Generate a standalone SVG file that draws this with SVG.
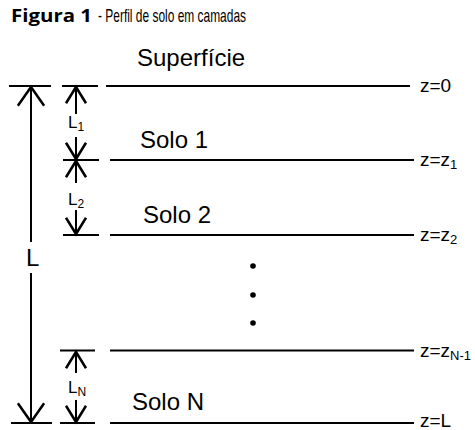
<svg xmlns="http://www.w3.org/2000/svg" width="475" height="430" viewBox="0 0 475 430">
<style>
.ln{stroke:#000;stroke-width:2;fill:none}
.ar{stroke:#000;stroke-width:2;fill:none}
.t{font-family:"Liberation Sans",Arial,sans-serif;fill:#000}
.big{font-size:24px}
.z{font-size:19px}
.sm{font-size:17px}
.sub{font-size:12px}
.zsub{font-size:13px}
.ttl{font-family:"Liberation Sans Narrow","Liberation Sans",sans-serif;font-size:18.5px;fill:#000}
</style>
<defs>
<marker id="hb" markerUnits="userSpaceOnUse" markerWidth="30" markerHeight="30" orient="auto" refX="0" refY="0" viewBox="-16 -12 18 24" overflow="visible">
<path d="M-15,-10.5 L0,0 L-15,10.5" stroke="#000" stroke-width="2" fill="none"/>
</marker>
<marker id="hs" markerUnits="userSpaceOnUse" markerWidth="30" markerHeight="30" orient="auto" refX="0" refY="0" viewBox="-16 -12 18 24" overflow="visible">
<path d="M-13,-8 L0,0 L-13,8" stroke="#000" stroke-width="2" fill="none"/>
</marker>
</defs>
<g id="title">
<text x="11" y="22" font-family="'Open Sans','Liberation Sans',sans-serif" font-weight="bold" font-size="18" textLength="81" lengthAdjust="spacingAndGlyphs">Figura 1</text>
<text class="ttl" x="98" y="22" textLength="148" lengthAdjust="spacingAndGlyphs">- Perfil de solo em camadas</text>
</g>
<g id="surface">
<text class="t big" x="137" y="66" font-size="25.5">Superfície</text>
<line class="ln" x1="106" y1="86" x2="410" y2="86"/>
<text class="t z" x="420" y="92">z=0</text>
</g>
<g id="layer1">
<text class="t big" x="140" y="148">Solo 1</text>
<line class="ln" x1="110" y1="160" x2="414" y2="160"/>
<text class="t z" x="420" y="166">z=z<tspan class="zsub" dy="3">1</tspan></text>
</g>
<g id="layer2">
<text class="t big" x="143" y="223">Solo 2</text>
<line class="ln" x1="110" y1="235" x2="414" y2="235"/>
<text class="t z" x="420" y="241">z=z<tspan class="zsub" dy="3">2</tspan></text>
</g>
<g id="dots">
<circle cx="253" cy="266" r="2.8"/>
<circle cx="253" cy="295" r="2.8"/>
<circle cx="253" cy="323" r="2.8"/>
</g>
<g id="layerN1">
<line class="ln" x1="110" y1="350.5" x2="414" y2="350.5"/>
<text class="t z" x="420" y="357">z=z<tspan class="zsub" dy="3">N-1</tspan></text>
</g>
<g id="layerN">
<text class="t big" x="132" y="410">Solo N</text>
<line class="ln" x1="110" y1="423" x2="414" y2="423"/>
<text class="t z" x="420" y="427">z=L</text>
</g>
<g id="ticks">
<line class="ln" x1="9" y1="86" x2="51" y2="86"/>
<line class="ln" x1="62" y1="86" x2="98" y2="86"/>
<line class="ln" x1="63" y1="160" x2="99" y2="160"/>
<line class="ln" x1="63" y1="235" x2="99" y2="235"/>
<line class="ln" x1="60" y1="350.5" x2="95" y2="350.5"/>
<line class="ln" x1="11" y1="423" x2="52" y2="423"/>
<line class="ln" x1="60" y1="423" x2="95" y2="423"/>
</g>
<g id="connectors">
<line class="ar" x1="31" y1="242" x2="31" y2="87" marker-end="url(#hb)"/>
<line class="ar" x1="31" y1="273" x2="31" y2="422" marker-end="url(#hb)"/>
<line class="ar" x1="76" y1="114" x2="76" y2="87" marker-end="url(#hs)"/>
<line class="ar" x1="76" y1="137" x2="76" y2="159" marker-end="url(#hs)"/>
<line class="ar" x1="76" y1="183" x2="76" y2="161" marker-end="url(#hs)"/>
<line class="ar" x1="76" y1="210" x2="76" y2="234" marker-end="url(#hs)"/>
<line class="ar" x1="76" y1="373" x2="76" y2="352" marker-end="url(#hs)"/>
<line class="ar" x1="76" y1="400" x2="76" y2="422" marker-end="url(#hs)"/>
</g>
<g id="dim-labels">
<text class="t big" x="26" y="266">L</text>
<text class="t sm" x="68" y="128">L<tspan class="sub" dy="3">1</tspan></text>
<text class="t sm" x="68" y="205">L<tspan class="sub" dy="3">2</tspan></text>
<text class="t sm" x="68" y="393">L<tspan class="sub" dy="3">N</tspan></text>
</g>
</svg>
